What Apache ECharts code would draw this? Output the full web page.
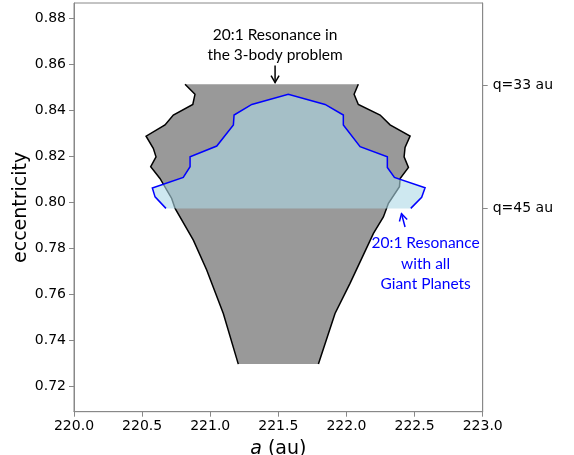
<!DOCTYPE html>
<html><head><meta charset="utf-8">
<script src="https://cdn.jsdelivr.net/npm/echarts@6/dist/echarts.min.js"></script>
<style>html,body{margin:0;padding:0;background:#fff}#c{width:574px;height:455px}</style>
</head><body><div id="c"></div>
<script>
// x ticks (a, au) and y ticks (eccentricity)
const xTicks = [220.0, 220.5, 221.0, 221.5, 222.0, 222.5, 223.0];
const yTicks = [0.72, 0.74, 0.76, 0.78, 0.80, 0.82, 0.84, 0.86, 0.88];
const qTickValues = [0.8510, 0.7976];
const qTickLabels = ['q=33 au', 'q=45 au'];

// 3-body resonance region: left and right boundaries (top to bottom) [a, e]
const grayLeft = [
  [220.815,0.8514],[220.888,0.8470],[220.872,0.8426],[220.729,0.8380],[220.668,0.8337],
  [220.529,0.8288],[220.582,0.8235],[220.602,0.8198],[220.563,0.8155],[220.631,0.8104],
  [220.717,0.8017],[220.742,0.7974],[220.876,0.7836],[220.974,0.7706],[221.096,0.7517],
  [221.206,0.7297]
];
const grayRight = [
  [222.087,0.8514],[222.056,0.8470],[222.087,0.8426],[222.247,0.8380],[222.320,0.8337],
  [222.467,0.8288],[222.430,0.8239],[222.423,0.8198],[222.455,0.8152],[222.394,0.8104],
  [222.389,0.8068],[222.308,0.7996],[222.271,0.7937],[222.198,0.7865],[222.026,0.7648],
  [221.916,0.7517],[221.794,0.7297]
];
// resonance with all giant planets: outline left-bottom -> top -> right-bottom [a, e]
const blueOutline = [
  [220.675,0.7974],[220.595,0.8024],[220.575,0.8063],[220.802,0.8109],[220.852,0.8155],
  [220.852,0.8198],[221.048,0.8245],[221.170,0.8337],[221.175,0.8380],[221.305,0.8426],
  [221.573,0.8470],[221.843,0.8426],[221.977,0.8380],[221.977,0.8337],[222.100,0.8242],
  [222.300,0.8198],[222.300,0.8152],[222.352,0.8109],[222.577,0.8064],[222.552,0.8022],
  [222.472,0.7974]
];
// annotations [a, e]
const blackText = ['20:1 Resonance in', 'the 3-body problem'];
const blackTextPos = [[221.476,0.8730],[221.476,0.8640]];
const blackArrow = [[221.476,0.8595],[221.476,0.8521]];
const blueText = ['20:1 Resonance', 'with all', 'Giant Planets'];
const blueTextPos = [[222.581,0.7822],[222.581,0.7732],[222.581,0.7645]];
const blueArrow = [[222.430,0.7893],[222.404,0.7951]];

const chart = echarts.init(document.getElementById('c'), null, {renderer:'canvas'});
const axisCol = '#888';
const tickFont = {fontFamily:'DejaVu Sans', fontSize:14, color:'#000'};

function arrowEls(api, pts, color){
  const p0 = api.coord(pts[0]), p1 = api.coord(pts[1]);
  const dx = p1[0]-p0[0], dy = p1[1]-p0[1];
  const L = Math.hypot(dx,dy), ux = dx/L, uy = dy/L;
  const hl = 7, hw = 4;
  const bx = p1[0]-ux*hl, by = p1[1]-uy*hl;
  const st = {stroke:color, lineWidth:1.5, fill:null};
  return [
    {type:'line', shape:{x1:p0[0],y1:p0[1],x2:p1[0],y2:p1[1]}, style:st},
    {type:'polyline', shape:{points:[[bx-uy*hw,by+ux*hw],[p1[0],p1[1]],[bx+uy*hw,by-ux*hw]]}, style:st}
  ];
}

const option = {
  animation:false,
  backgroundColor:'#fff',
  grid:{left:74, right:91.3, top:3, bottom:43.3, containLabel:false, outerBoundsMode:'none',
        show:true, borderColor:axisCol, borderWidth:1},
  xAxis:{
    type:'value', min:220, max:223, interval:0.5,
    name:'{i|a} (au)', nameLocation:'middle', nameGap:28, nameMoveOverlap:false,
    nameTextStyle:{fontFamily:'DejaVu Sans', fontSize:19, color:'#000',
      rich:{i:{fontFamily:'DejaVu Sans', fontSize:19, fontStyle:'italic', color:'#000'}}},
    axisLine:{show:true, lineStyle:{color:axisCol, width:1}},
    axisTick:{show:true, inside:false, length:5, lineStyle:{color:axisCol}},
    axisLabel:Object.assign({margin:8, formatter:v=>v.toFixed(1)}, tickFont),
    splitLine:{show:false}
  },
  yAxis:[{
    type:'value', min:0.7090, max:0.8867,
    name:'eccentricity', nameLocation:'middle', nameGap:43, nameMoveOverlap:false,
    nameTextStyle:{fontFamily:'DejaVu Sans', fontSize:19, color:'#000'},
    axisLine:{show:true, lineStyle:{color:axisCol, width:1}},
    axisTick:{show:true, length:5, customValues:yTicks, lineStyle:{color:axisCol}},
    axisLabel:Object.assign({margin:8, customValues:yTicks, formatter:v=>v.toFixed(2)}, tickFont),
    splitLine:{show:false}
  },{
    type:'value', min:0.7090, max:0.8867, position:'right',
    axisLine:{show:true, lineStyle:{color:axisCol, width:1}},
    axisTick:{show:true, length:5, customValues:qTickValues, lineStyle:{color:axisCol}},
    axisLabel:Object.assign({margin:10, customValues:qTickValues,
      formatter:v=>{ let best=0; qTickValues.forEach((q,i)=>{ if(Math.abs(q-v)<Math.abs(qTickValues[best]-v)) best=i; }); return qTickLabels[best]; }}, tickFont),
    splitLine:{show:false}
  }],
  series:[
    {
      type:'custom', data:[0], silent:true, clip:false, z:2,
      renderItem:(params, api)=>{
        const left = grayLeft.map(p=>api.coord(p));
        const right = grayRight.map(p=>api.coord(p));
        const poly = left.concat(right.slice().reverse());
        return {type:'group', children:[
          {type:'polygon', shape:{points:poly}, style:{fill:'rgba(128,128,128,0.8)', stroke:null}},
          {type:'polyline', shape:{points:left}, style:{stroke:'#000', lineWidth:1.5, fill:null}},
          {type:'polyline', shape:{points:right}, style:{stroke:'#000', lineWidth:1.5, fill:null}}
        ]};
      }
    },
    {
      type:'custom', data:[0], silent:true, clip:false, z:3,
      renderItem:(params, api)=>{
        const pts = blueOutline.map(p=>api.coord(p));
        return {type:'group', children:[
          {type:'polygon', shape:{points:pts}, style:{fill:'rgba(173,216,230,0.6)', stroke:null}},
          {type:'polyline', shape:{points:pts}, style:{stroke:'#0000ff', lineWidth:1.5, fill:null}}
        ]};
      }
    },
    {
      type:'custom', data:[0], silent:true, clip:false, z:4,
      renderItem:(params, api)=>{
        const ch = [];
        blackText.forEach((t,i)=>{ const p = api.coord(blackTextPos[i]);
          ch.push({type:'text', x:p[0], y:p[1], style:{text:t, fill:'#000', font:'15.5px Lato', align:'center', verticalAlign:'middle'}}); });
        blueText.forEach((t,i)=>{ const p = api.coord(blueTextPos[i]);
          ch.push({type:'text', x:p[0], y:p[1], style:{text:t, fill:'#0000ff', font:'15.5px Lato', align:'center', verticalAlign:'middle'}}); });
        return {type:'group', children: ch.concat(arrowEls(api, blackArrow, '#000'), arrowEls(api, blueArrow, '#0000ff'))};
      }
    }
  ]
};
chart.setOption(option);
</script></body></html>
